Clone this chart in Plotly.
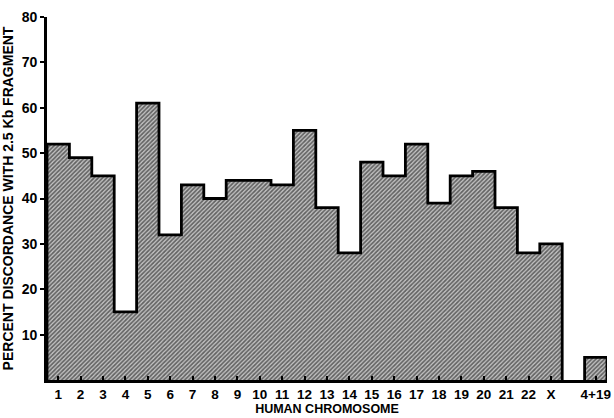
import plotly.graph_objects as go

categories = ["1", "2", "3", "4", "5", "6", "7", "8", "9", "10", "11", "12",
              "13", "14", "15", "16", "17", "18", "19", "20", "21", "22", "X", "4+19"]
values = [52, 49, 45, 15, 61, 32, 43, 40, 44, 44, 43, 55,
          38, 28, 48, 45, 52, 39, 45, 46, 38, 28, 30, 5]
positions = list(range(1, 24)) + [25]
y_ticks = [10, 20, 30, 40, 50, 60, 70, 80]

FONT = "Liberation Sans, Arial, sans-serif"

fig = go.Figure()
fig.add_trace(go.Bar(
    x=positions, y=values, width=1.0,
    marker=dict(color="white", line=dict(width=0),
                pattern=dict(shape="/", fgcolor="#000000", bgcolor="#c4c4c4",
                             size=3, solidity=0.55)),
    showlegend=False, hoverinfo="skip",
))

# skyline outline of the contiguous block (1..X)
main_vals = values[:23]
sx, sy = [0.5], [0]
for p, v in zip(positions[:23], main_vals):
    sx += [p - 0.5, p + 0.5]
    sy += [v, v]
sx += [23.5]
sy += [0]
fig.add_trace(go.Scatter(x=sx, y=sy, mode="lines",
                         line=dict(color="black", width=2.8),
                         showlegend=False, hoverinfo="skip"))
# outline of the separate 4+19 bar
p, v = positions[23], values[23]
fig.add_trace(go.Scatter(x=[p - 0.5, p - 0.5, p + 0.5, p + 0.5],
                         y=[0, v, v, 0], mode="lines",
                         line=dict(color="black", width=2.8),
                         showlegend=False, hoverinfo="skip"))

fig.update_layout(
    width=614, height=418,
    margin=dict(l=47, r=7, t=17, b=38),
    plot_bgcolor="white", paper_bgcolor="white",
    bargap=0,
    font=dict(family=FONT, size=13, color="black"),
    xaxis=dict(range=[0.5, 25.5], tickvals=positions, ticktext=categories,
               ticks="inside", ticklen=4, tickwidth=1.5, tickcolor="black",
               showline=True, linecolor="black", linewidth=2.8,
               showgrid=False, zeroline=False, automargin=False,
               tickfont=dict(family=FONT, size=13.5, color="black", weight="bold"),
               title=dict(text="HUMAN CHROMOSOME", standoff=2,
                          font=dict(family=FONT, size=12.5, color="black", weight="bold"))),
    yaxis=dict(range=[0, 80], tickvals=y_ticks,
               ticks="outside", ticklen=4, tickwidth=1.5, tickcolor="black",
               showline=True, linecolor="black", linewidth=2.8,
               showgrid=False, zeroline=False, automargin=False,
               tickfont=dict(family=FONT, size=14, color="black", weight="bold"),
               title=dict(text="PERCENT DISCORDANCE WITH 2.5 Kb FRAGMENT",
                          standoff=5,
                          font=dict(family=FONT, size=14, color="black", weight="bold"))),
)

fig.write_html("out.html", config={"displayModeBar": False},
               post_script="document.body.style.margin='0';")
